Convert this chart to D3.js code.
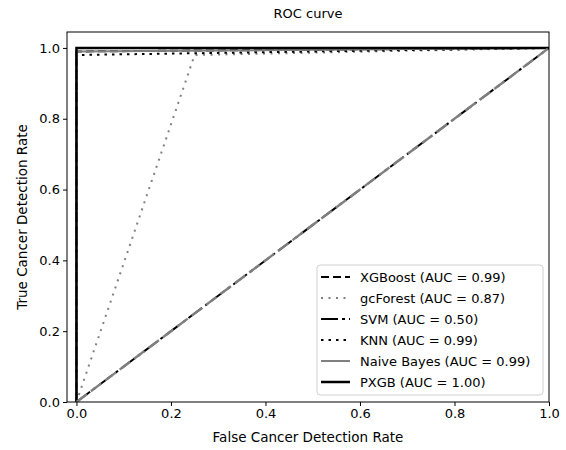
<!DOCTYPE html>
<html>
<head>
<meta charset="utf-8">
<script src="https://cdn.jsdelivr.net/npm/d3@7"></script>
<style>
  body { margin: 0; background: #fff; }
  svg text { font-family: "DejaVu Sans", sans-serif; fill: #000; }
</style>
</head>
<body>
<div id="chart"></div>
<script>
var modelNames = ['XGBoost', 'gcForest', 'SVM', 'KNN', 'Naive Bayes', 'PXGB'];
var aucValues = [0.99, 0.87, 0.50, 0.99, 0.99, 1.00];
var fprXGBoost = [0, 0, 1];
var tprXGBoost = [0, 0.99, 1];
var fprGcForest = [0, 0.25, 1];
var tprGcForest = [0, 0.98, 1];
var fprSVM = [0, 1];
var tprSVM = [0, 1];
var fprKNN = [0, 0, 1];
var tprKNN = [0, 0.98, 1];
var fprNB = [0, 0, 1];
var tprNB = [0, 0.99, 1];
var fprPXGB = [0, 0, 1];
var tprPXGB = [0, 1, 1];
var chanceLine = [0, 1];
var xTicks = [0, 0.2, 0.4, 0.6, 0.8, 1.0];
var yTicks = [0, 0.2, 0.4, 0.6, 0.8, 1.0];

(function () {
  var W = 566, H = 450;
  var margin = { top: 32, right: 17, bottom: 48, left: 67 };
  var w = W - margin.left - margin.right;
  var h = H - margin.top - margin.bottom;

  var svg = d3.select('#chart').append('svg')
    .attr('width', W).attr('height', H);
  var g = svg.append('g')
    .attr('transform', 'translate(' + margin.left + ',' + margin.top + ')');

  var x = d3.scaleLinear().domain([-0.02, 1.0]).range([0, w]);
  var y = d3.scaleLinear().domain([0, 1.045]).range([h, 0]);

  // line styles per model (same order as modelNames)
  var styles = [
    { color: '#000', dash: '8,4', width: 2 },
    { color: '#808080', dash: '2,5.5', width: 2 },
    { color: '#000', dash: '17,4,3,4', width: 2 },
    { color: '#000', dash: '2.5,5', width: 2 },
    { color: '#808080', dash: null, width: 2 },
    { color: '#000', dash: null, width: 2.5 }
  ];
  var fprs = [fprXGBoost, fprGcForest, fprSVM, fprKNN, fprNB, fprPXGB];
  var tprs = [tprXGBoost, tprGcForest, tprSVM, tprKNN, tprNB, tprPXGB];

  g.append('clipPath').attr('id', 'clip')
    .append('rect').attr('width', w).attr('height', h);

  var line = d3.line()
    .x(function (d) { return x(d[0]); })
    .y(function (d) { return y(d[1]); });

  var plot = g.append('g').attr('clip-path', 'url(#clip)');

  modelNames.forEach(function (name, i) {
    var pts = fprs[i].map(function (f, j) { return [f, tprs[i][j]]; });
    plot.append('path').datum(pts)
      .attr('fill', 'none')
      .attr('stroke', styles[i].color)
      .attr('stroke-width', styles[i].width)
      .attr('stroke-dasharray', styles[i].dash)
      .attr('d', line);
  });

  // chance diagonal
  plot.append('path')
    .datum(chanceLine.map(function (v) { return [v, v]; }))
    .attr('fill', 'none')
    .attr('stroke', '#808080')
    .attr('stroke-width', 2.4)
    .attr('stroke-dasharray', '13,5')
    .attr('d', line);

  // axes
  g.append('g')
    .attr('transform', 'translate(0,' + h + ')')
    .call(d3.axisBottom(x).tickValues(xTicks).tickFormat(d3.format('.1f')).tickSize(4).tickPadding(3))
    .call(function (a) {
      a.select('.domain').remove();
      a.selectAll('.tick line').attr('stroke', '#000').attr('stroke-width', 1);
      a.selectAll('text').style('font-size', '13px').attr('fill', '#000');
    });

  g.append('g')
    .call(d3.axisLeft(y).tickValues(yTicks).tickFormat(d3.format('.1f')).tickSize(4).tickPadding(3))
    .call(function (a) {
      a.select('.domain').remove();
      a.selectAll('.tick line').attr('stroke', '#000').attr('stroke-width', 1);
      a.selectAll('text').style('font-size', '13px').attr('fill', '#000');
    });

  // frame
  g.append('rect')
    .attr('width', w).attr('height', h)
    .attr('fill', 'none').attr('stroke', '#000').attr('stroke-width', 1);

  // title and labels
  svg.append('text')
    .attr('x', margin.left + w / 2).attr('y', 18)
    .attr('text-anchor', 'middle').style('font-size', '13px')
    .text('ROC curve');
  svg.append('text')
    .attr('x', margin.left + w / 2).attr('y', 442)
    .attr('text-anchor', 'middle').style('font-size', '13.5px')
    .text('False Cancer Detection Rate');
  svg.append('text')
    .attr('transform', 'translate(27,' + (margin.top + h / 2) + ') rotate(-90)')
    .attr('text-anchor', 'middle').style('font-size', '13.5px')
    .text('True Cancer Detection Rate');

  // legend
  var lg = svg.append('g').attr('transform', 'translate(317,265)');
  lg.append('rect')
    .attr('width', 226).attr('height', 130).attr('rx', 3)
    .attr('fill', '#fff').attr('fill-opacity', 0.8)
    .attr('stroke', '#d0d0d0').attr('stroke-width', 1);
  modelNames.forEach(function (name, i) {
    var yy = 12 + i * 21;
    lg.append('line')
      .attr('x1', 4).attr('x2', 33).attr('y1', yy).attr('y2', yy)
      .attr('stroke', styles[i].color)
      .attr('stroke-width', styles[i].width)
      .attr('stroke-dasharray', styles[i].dash);
    lg.append('text')
      .attr('x', 43).attr('y', yy + 5)
      .style('font-size', '13px')
      .text(name + ' (AUC = ' + aucValues[i].toFixed(2) + ')');
  });
})();
</script>
</body>
</html>
